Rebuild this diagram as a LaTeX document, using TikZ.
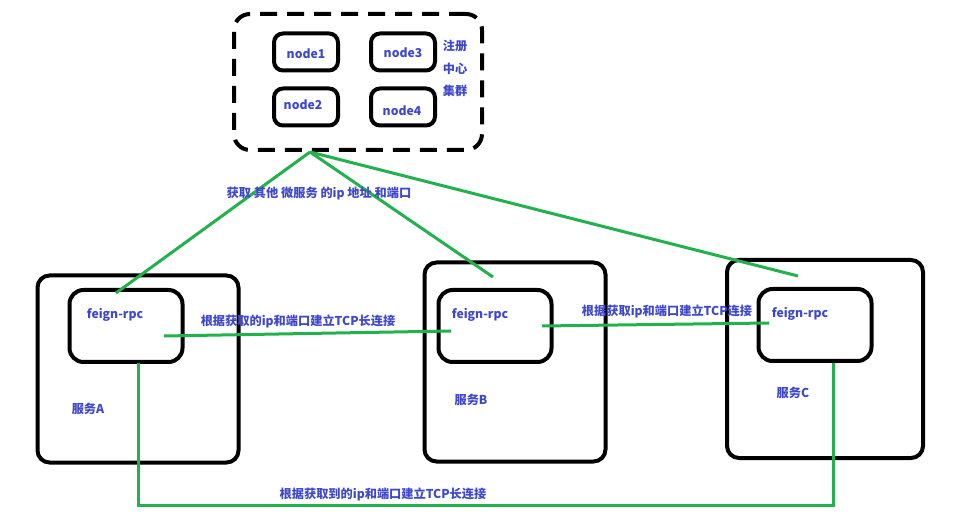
\documentclass[tikz,border=0pt]{standalone}
\usepackage{fontspec}
\setmainfont{Noto Sans CJK SC}
\usetikzlibrary{calc}
\definecolor{inkblue}{RGB}{63,72,204}
\definecolor{wire}{RGB}{34,177,76}
\begin{document}
\begin{tikzpicture}[x=1pt,y=-1pt,
  lbl/.style={text=inkblue,font=\bfseries\fontsize{12.2}{13}\selectfont,inner sep=0pt},
  box/.style={draw=black,line width=4pt,rounded corners=12pt,inner sep=0pt},
  regbox/.style={box,dash pattern=on 17pt off 10pt,rounded corners=16pt},
  nodebox/.style={box,rounded corners=9pt,minimum width=64pt,minimum height=37pt},
  inner/.style={box,rounded corners=14pt,minimum width=113pt,minimum height=72pt},
  link/.style={draw=wire,line width=3pt}]
\useasboundingbox (0,0) rectangle (980,518);
\fill[white] (0,0) rectangle (980,518);

% registry cluster
\node[regbox,minimum width=248pt,minimum height=136pt] (reg) at (358,82) {};
\node[nodebox] (n1) at (306,52) {};
\node[nodebox] (n3) at (403,52) {};
\node[nodebox] (n2) at (306,107) {};
\node[nodebox] (n4) at (403,107) {};
\node[lbl] at (306,54) {node1};
\node[lbl] at (403,53) {node3};
\node[lbl] at (303,105) {node2};
\node[lbl] at (402,111) {node4};
\node[lbl] (regname) at (455,46) {注册};
\node[lbl] at (455,69) {中心};
\node[lbl] at (455,91) {集群};

% services
\node[box,minimum width=201pt,minimum height=187pt] (A) at (138,369) {};
\node[inner] (Ai) at (126,326) {};
\node[box,minimum width=181pt,minimum height=199pt] (B) at (515,362) {};
\node[inner] (Bi) at (495,326) {};
\node[box,minimum width=196pt,minimum height=198pt] (C) at (825,359) {};
\node[inner] (Ci) at (815,325) {};

\node[lbl] (fa) at (115,315) {feign-rpc};
\node[lbl] (fb) at (480,315) {feign-rpc};
\node[lbl] (fc) at (800,314) {feign-rpc};
\node[lbl] at (88,409) {服务A};
\node[lbl] at (471,400) {服务B};
\node[lbl] at (793,393) {服务C};

% connector end points
\coordinate (apex) at (310,152);
\coordinate (aTop) at (116,293);
\coordinate (bTop) at (493,277);
\coordinate (cTop) at (798,276);
\coordinate (aR) at (164,336);
\coordinate (bL) at (451,331);
\coordinate (bR) at (542,326);
\coordinate (cL) at (769,323);
\coordinate (aB) at (138,363);
\coordinate (cB) at (833,363);
\coordinate (floorA) at (138,505);
\coordinate (floorC) at (833,505);

% registry lookups
\draw[link] (apex) -- (aTop);
\draw[link] (apex) -- (bTop);
\draw[link] (apex) -- (cTop);
% TCP connections
\draw[link] (aR) -- (bL);
\draw[link] (bR) -- (cL);
\draw[link] (aB) -- (floorA) -- (floorC) -- (cB);

\node[lbl] at (319,194) {获取 其他 微服务 的ip 地址 和端口};
\node[lbl] at (298,321) {根据获取的ip和端口建立TCP长连接};
\node[lbl] at (667,311) {根据获取ip和端口建立TCP连接};
\node[lbl] at (383,494) {根据获取到的ip和端口建立TCP长连接};
\end{tikzpicture}
\end{document}
